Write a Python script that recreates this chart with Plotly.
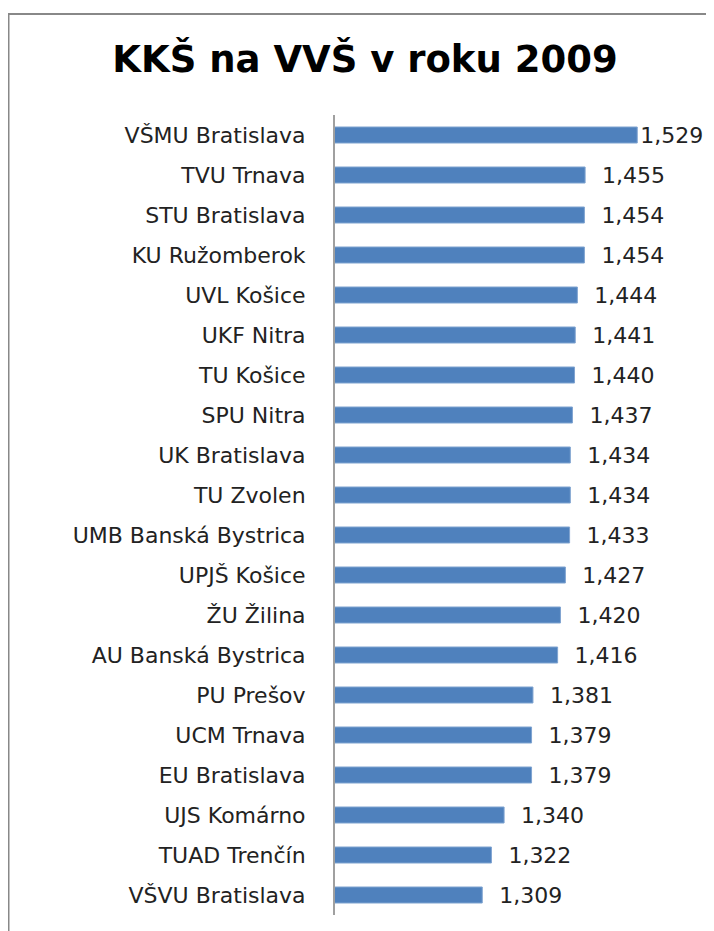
import plotly.graph_objects as go

schools = ["VŠMU Bratislava", "TVU Trnava", "STU Bratislava", "KU Ružomberok", "UVL Košice",
           "UKF Nitra", "TU Košice", "SPU Nitra", "UK Bratislava", "TU Zvolen",
           "UMB Banská Bystrica", "UPJŠ Košice", "ŽU Žilina", "AU Banská Bystrica", "PU Prešov",
           "UCM Trnava", "EU Bratislava", "UJS Komárno", "TUAD Trenčín", "VŠVU Bratislava"]
values = [1.529, 1.455, 1.454, 1.454, 1.444, 1.441, 1.440, 1.437, 1.434, 1.434,
          1.433, 1.427, 1.420, 1.416, 1.381, 1.379, 1.379, 1.340, 1.322, 1.309]
value_labels = [f"{v:.3f}".replace(".", ",") for v in values]

# page body has an 8px margin; figure sized so it ends at the window edge
OFF = 8
W, H = 714 - OFF, 931 - OFF
ml, mr, mt, mb = 335 - OFF, 9, 115 - OFF, 16
pw, ph = W - ml - mr, H - mt - mb

templates = ["%{text}"] + ["\u00a0\u00a0%{text}"] * (len(values) - 1)

fig = go.Figure(go.Bar(
    x=values, y=schools, orientation="h",
    marker=dict(color="#4F81BD", line=dict(color="#7FA3D0", width=1)),
    width=0.4,
    text=value_labels,
    texttemplate=templates,
    textposition="outside",
    constraintext="none",
    textfont=dict(family="DejaVu Sans", size=22, color="#222222"),
    cliponaxis=False,
))

def px_x(p):
    return (p - ml) / pw

def px_y(p):
    return (H - mb - p) / ph

fig.update_layout(
    width=W, height=H,
    margin=dict(l=ml, r=mr, t=mt, b=mb, autoexpand=False),
    paper_bgcolor="white", plot_bgcolor="white",
    showlegend=False,
    title=dict(text="<b>KKŠ na VVŠ v roku 2009</b>", x=(365 - OFF) / W, xanchor="center",
               y=1 - (59 - OFF) / H, yanchor="middle",
               font=dict(family="DejaVu Sans", size=37, color="#000000")),
    xaxis=dict(range=[1.1, 1.1 + pw / 704.5], visible=False, fixedrange=True,
               automargin=False),
    yaxis=dict(autorange="reversed", showline=True, linecolor="#A0A0A0", linewidth=2,
               ticks="outside", ticklen=23, tickcolor="rgba(0,0,0,0)",
               tickfont=dict(family="DejaVu Sans", size=22, color="#222222"),
               showgrid=False, automargin=False),
    shapes=[
        dict(type="line", xref="paper", yref="paper", x0=px_x(0.5), x1=px_x(0.5),
             y0=px_y(5), y1=px_y(H + 5), line=dict(color="#888888", width=2)),
        dict(type="line", xref="paper", yref="paper", x0=px_x(0), x1=px_x(W + 5),
             y0=px_y(6), y1=px_y(6), line=dict(color="#888888", width=2)),
    ],
)

fig.write_html("out.html")
